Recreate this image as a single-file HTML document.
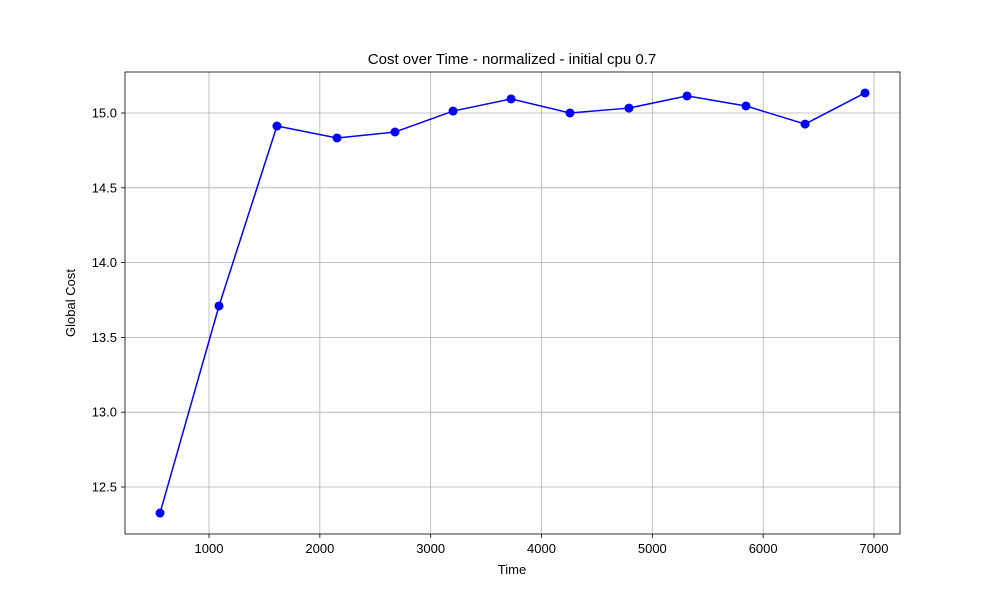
<!DOCTYPE html>
<html><head><meta charset="utf-8"><style>
body{margin:0;background:#fff;}
svg text{font-family:"Liberation Sans","DejaVu Sans",sans-serif;}
</style></head><body>
<svg id="chart" width="1000" height="600" xmlns="http://www.w3.org/2000/svg">
<rect width="1000" height="600" fill="#fff"/>
<g id="grid"></g>
<g id="axes"></g>
<g id="series"></g>
<text x="512" y="64" text-anchor="middle" font-size="15">Cost over Time - normalized - initial cpu 0.7</text>
<text x="512" y="574" text-anchor="middle" font-size="13">Time</text>
<text x="75" y="303" text-anchor="middle" font-size="13" transform="rotate(-90 75 303)">Global Cost</text>
</svg>
<script>
const times=[558,1090,1613,2155,2678,3202,3725,4257,4789,5313,5845,6378,6919];
const costs=[12.326,13.71,14.913,14.833,14.873,15.013,15.094,15.0,15.033,15.114,15.047,14.926,15.134];
const xTicks=[1000,2000,3000,4000,5000,6000,7000];
const yTicks=[12.5,13.0,13.5,14.0,14.5,15.0];
const L=125,R=900,T=72,B=534;
const xs=v=>98.17+v*0.110833;
const ys=v=>113-(v-15)*149.6;
const NS="http://www.w3.org/2000/svg";
function mk(t,a,p){const e=document.createElementNS(NS,t);for(const k in a)e.setAttribute(k,a[k]);p.appendChild(e);return e;}
const grid=document.getElementById('grid'),axes=document.getElementById('axes'),ser=document.getElementById('series');
xTicks.forEach(v=>{const x=xs(v);
const g=mk('line',{x1:x,x2:x,y1:T,y2:B,stroke:'#b0b0b0','stroke-width':0.8},grid);


mk('line',{x1:x,x2:x,y1:B,y2:B+4,stroke:'#000','stroke-width':0.8},axes);
const t=mk('text',{x:x,y:B+19,'text-anchor':'middle','font-size':13},axes);t.textContent=v;

});
yTicks.forEach(v=>{const y=ys(v);
const g=mk('line',{x1:L,x2:R,y1:y,y2:y,stroke:'#b0b0b0','stroke-width':0.8},grid);


mk('line',{x1:L-4,x2:L,y1:y,y2:y,stroke:'#000','stroke-width':0.8},axes);
const t=mk('text',{x:L-8,y:y+4.5,'text-anchor':'end','font-size':13},axes);t.textContent=v.toFixed(1);

});
const fr=mk('rect',{x:L,y:T,width:R-L,height:B-T,fill:'none',stroke:'#000','stroke-width':0.8},axes);


const pl=mk('polyline',{points:times.map((t,i)=>xs(t)+','+ys(costs[i])).join(' '),fill:'none',stroke:'#0000ff','stroke-width':1.5},ser);


times.forEach((t,i)=>{const c=mk('circle',{cx:xs(t),cy:ys(costs[i]),r:4.5,fill:'#0000ff'},ser);

});
</script>
</body></html>
